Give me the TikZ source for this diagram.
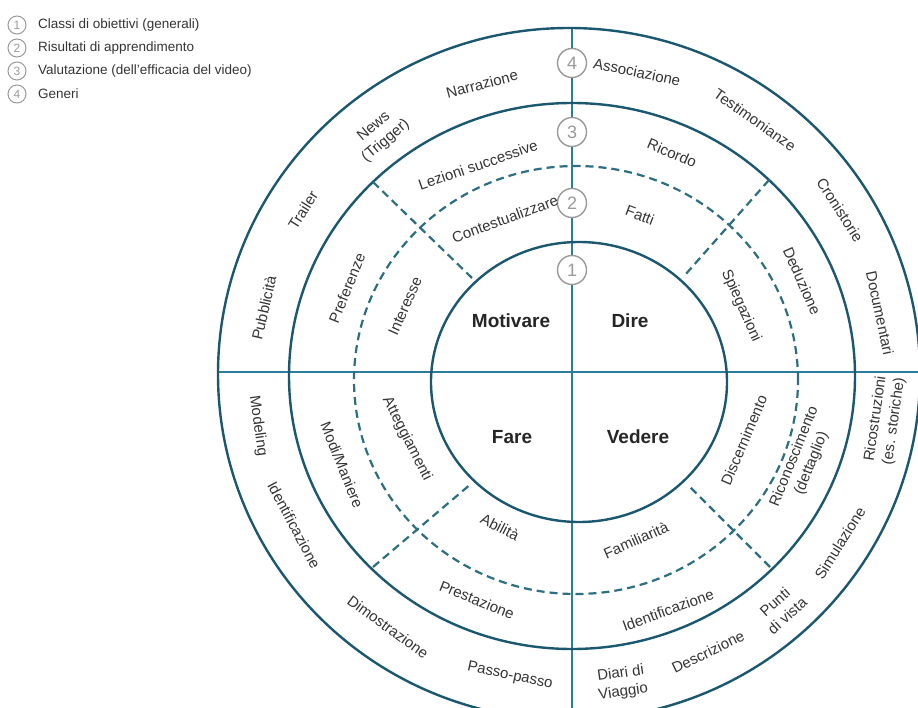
\documentclass[tikz,border=0pt]{standalone}
\usepackage{fontspec}
\setmainfont{Liberation Sans}
\definecolor{ringc}{HTML}{1B5870}
\definecolor{axisc}{HTML}{2A7D9B}
\definecolor{dashc}{HTML}{2D6E80}
\definecolor{txtc}{HTML}{353535}
\definecolor{numc}{HTML}{9A9A9A}
\begin{document}
\begin{tikzpicture}[x=1pt,y=-1pt,
 ring/.style={draw=ringc,line width=2.4pt},
 axis/.style={draw=axisc,line width=2pt},
 dsh/.style={draw=dashc,line width=2.2pt,dash pattern=on 8pt off 5pt},
 lab/.style={text=txtc,font=\fontsize{15}{18.5}\selectfont,align=center,inner sep=0pt},
 big/.style={text=black!85,font=\bfseries\fontsize{19}{22}\selectfont,inner sep=0pt},
 num/.style={circle,draw=numc,line width=1.4pt,fill=white,minimum size=29pt,inner sep=0pt,text=numc,font=\fontsize{18}{18}\selectfont},
 lnum/.style={circle,draw=numc,line width=1pt,minimum size=18pt,inner sep=0pt,text=numc,font=\fontsize{12}{12}\selectfont},
 leg/.style={text=txtc,font=\fontsize{13.5}{15}\selectfont,anchor=west,inner sep=0pt}]

\useasboundingbox (0,0) rectangle (918,708);
\fill[white] (0,0) rectangle (918,708);

% axes
\coordinate (vt) at (572,28);
\coordinate (vb) at (572,708);
\coordinate (hl) at (218,372);
\coordinate (hr) at (918,372);
\draw[axis] (vt) -- (vb);
\draw[axis] (hl) -- (hr);

% rings
\begin{scope}
\clip (0,0) rectangle (918,708);
\draw[ring] (569,374) ellipse [x radius=351pt,y radius=346pt];
\end{scope}
\draw[ring] (572,376) ellipse [x radius=283pt,y radius=273pt];
\draw[dsh] (576,380) ellipse [x radius=222pt,y radius=214pt];
\draw[ring] (579,382) ellipse [x radius=148pt,y radius=140pt];

% dashed radial separators
\coordinate (nwa) at (373,182); \coordinate (nwb) at (472,278);
\coordinate (nea) at (769,180); \coordinate (neb) at (685,275);
\coordinate (swa) at (373,567); \coordinate (swb) at (472,483);
\coordinate (sea) at (770,567); \coordinate (seb) at (688,485);
\draw[dsh] (nwa) -- (nwb);
\draw[dsh] (nea) -- (neb);
\draw[dsh] (swa) -- (swb);
\draw[dsh] (sea) -- (seb);

% number circles
\node[num] (n4) at (572,63) {4};
\node[num] (n3) at (572,132) {3};
\node[num] (n2) at (572,203) {2};
\node[num] (n1) at (572,270) {1};

% centre labels
\node[big] (motivare) at (511,321) {Motivare};
\node[big] (dire) at (630,321) {Dire};
\node[big] (fare) at (512,437) {Fare};
\node[big] (vedere) at (638,437) {Vedere};

% outer ring
\node[lab,rotate=15] (narr) at (482,84) {Narrazione};
\node[lab,rotate=-12] (assoc) at (637,72) {Associazione};
\node[lab,rotate=-35] (testi) at (755,120) {Testimonianze};
\node[lab,rotate=-57] (croni) at (840,210) {Cronistorie};
\node[lab,rotate=-78] (docu) at (880,313) {Documentari};
\node[lab,rotate=40] (news) at (380,134) {News\\(Trigger)};
\node[lab,rotate=58] (trail) at (303,210) {Trailer};
\node[lab,rotate=77] (pubb) at (264,308) {Pubblicità};
\node[lab,rotate=-82] (model) at (258,426) {Modeling};
\node[lab,rotate=-62] (ident1) at (294,525) {Identificazione};
\node[lab,rotate=-36] (dimo) at (388,627) {Dimostrazione};
\node[lab,rotate=-12] (passo) at (510,676) {Passo-passo};
\node[lab,rotate=8] (diari) at (622,683) {Diari di\\Viaggio};
\node[lab,rotate=26] (descr) at (708,652) {Descrizione};
\node[lab,rotate=42] (punti) at (781,609) {Punti\\di vista};
\node[lab,rotate=58] (simul) at (840,543) {Simulazione};
\node[lab,rotate=82] (ricos) at (885,420) {Ricostruzioni\\(es. storiche)};

% ring 3
\node[lab,rotate=19] (lezioni) at (478,165) {Lezioni successive};
\node[lab,rotate=-23] (ricordo) at (672,153) {Ricordo};
\node[lab,rotate=68] (prefer) at (347,288) {Preferenze};
\node[lab,rotate=-66] (dedu) at (802,281) {Deduzione};
\node[lab,rotate=-68] (modi) at (342,465) {Modi/Maniere};
\node[lab,rotate=-22] (prest) at (477,600) {Prestazione};
\node[lab,rotate=20] (ident2) at (668,610) {Identificazione};
\node[lab,rotate=68] (ricon) at (803,460) {Riconoscimento\\(dettaglio)};

% ring 2
\node[lab,rotate=20] (conte) at (505,219) {Contestualizzare};
\node[lab,rotate=-21] (fatti) at (640,215) {Fatti};
\node[lab,rotate=66] (inter) at (405,306) {Interesse};
\node[lab,rotate=-66] (spieg) at (741,306) {Spiegazioni};
\node[lab,rotate=-63] (atteg) at (407,439) {Atteggiamenti};
\node[lab,rotate=-27] (abil) at (500,527) {Abilità};
\node[lab,rotate=24] (famil) at (636,540) {Familiarità};
\node[lab,rotate=67] (disc) at (744,440) {Discernimento};

% legend
\node[lnum] (l1) at (17,25) {1};
\node[lnum] (l2) at (17,48) {2};
\node[lnum] (l3) at (17,71) {3};
\node[lnum] (l4) at (17,94) {4};
\node[leg] (t1) at (38,25) {Classi di obiettivi (generali)};
\node[leg] (t2) at (38,48) {Risultati di apprendimento};
\node[leg] (t3) at (38,71) {Valutazione (dell'efficacia del video)};
\node[leg] (t4) at (38,94) {Generi};
\end{tikzpicture}
\end{document}
